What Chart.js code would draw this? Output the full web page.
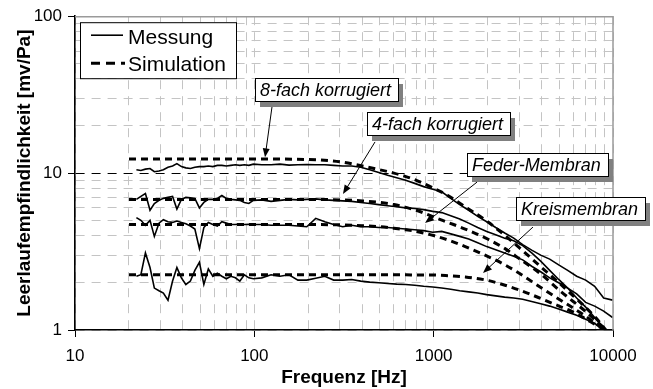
<!DOCTYPE html>
<html>
<head>
<meta charset="utf-8">
<script src="https://cdn.jsdelivr.net/npm/chart.js@4.4.0/dist/chart.umd.min.js"></script>
<style>
  html, body { margin: 0; padding: 0; background: #fff; }
  #wrap { width: 653px; height: 389px; }
</style>
</head>
<body>
<div id="wrap"><canvas id="chart" width="653" height="389"></canvas></div>
<script>
// Messung: frequencies [Hz] and sensitivities [mV/Pa]
const freqMess = [22, 23.3, 24.7, 26.2, 27.7, 29.4, 31.1, 33, 35, 37, 39.2, 41.5, 44, 46.6, 49.4, 52.3, 55.4, 58.7, 62.2, 65.9, 69.8, 74, 78.4, 83, 88, 93.2, 98.8,
  110, 124, 139, 156, 175, 196, 220, 247, 277, 311, 349, 392, 440, 494, 554, 622, 698, 784, 880, 988,
  1109, 1245, 1397, 1568, 1760, 1976, 2217, 2489, 2794, 3136, 3520, 3951, 4435, 4978, 5588, 6272, 7040, 7902, 8870, 9956];

const mess8fach = [10.5, 10.4, 10.6, 10.7, 10.2, 10.3, 10.5, 10.9, 11.1, 11.5, 11.0, 10.8, 10.7, 10.9, 11.0, 11.0, 11.1, 11.0, 11.2, 11.2, 11.1, 11.2, 11.3, 11.2, 11.3, 11.2, 11.4,
  11.3, 11.3, 11.4, 11.25, 11.3, 11.35, 11.3, 11.3, 11.2, 11.1, 11.1, 10.9, 10.5, 10.1, 9.7, 9.35, 9.0, 8.6, 8.2, 7.9,
  7.6, 6.9, 6.3, 5.8, 5.3, 4.9, 4.5, 4.15, 3.85, 3.5, 3.23, 3.0, 2.83, 2.6, 2.4, 2.2, 2.08, 1.9, 1.6, 1.55];

const mess4fach = [6.8, 7.1, 7.4, 5.8, 6.4, 6.7, 6.9, 7.0, 7.1, 5.9, 6.8, 7.0, 6.95, 6.9, 6.0, 6.5, 6.8, 6.8, 6.9, 7.2, 6.9, 6.8, 6.75, 6.7, 6.5, 6.4, 6.7,
  6.75, 6.6, 6.7, 6.8, 6.75, 6.8, 6.85, 6.75, 6.7, 6.65, 6.6, 6.5, 6.4, 6.3, 6.2, 6.1, 6.0, 5.95, 5.85, 5.7,
  5.6, 5.35, 5.1, 4.8, 4.5, 4.25, 4.05, 3.85, 3.7, 3.45, 3.1, 2.75, 2.4, 2.1, 1.85, 1.6, 1.4, 1.2, 1.02, 0.9];

const messFeder = [5.2, 5.0, 4.65, 5.0, 3.95, 4.8, 5.05, 4.9, 4.85, 4.95, 4.85, 4.75, 4.6, 4.4, 3.3, 4.5, 4.85, 4.7, 4.6, 4.9, 4.8, 4.7, 4.7, 4.75, 4.7, 4.72, 4.7,
  4.7, 4.65, 4.65, 4.65, 4.6, 4.55, 5.15, 4.9, 4.7, 4.55, 4.65, 4.55, 4.55, 4.5, 4.5, 4.45, 4.4, 4.35, 4.3, 4.2,
  4.25, 4.1, 3.95, 3.8, 3.6, 3.4, 3.25, 3.1, 2.95, 2.8, 2.55, 2.35, 2.15, 2.0, 1.85, 1.7, 1.5, 1.42, 1.32, 1.2];

const messKreis = [2.2, 2.25, 3.1, 2.5, 1.85, 1.78, 1.72, 1.55, 2.05, 2.5, 2.15, 1.95, 2.05, 2.4, 2.7, 1.95, 2.45, 2.2, 2.3, 2.2, 2.12, 2.2, 2.15, 2.05, 2.25, 2.15, 2.12,
  2.15, 2.25, 2.2, 2.25, 2.08, 2.08, 2.14, 2.2, 2.08, 2.08, 2.1, 2.05, 2.02, 2.0, 1.98, 1.96, 1.95, 1.93, 1.9, 1.88,
  1.85, 1.82, 1.78, 1.75, 1.72, 1.68, 1.65, 1.62, 1.6, 1.57, 1.52, 1.47, 1.42, 1.36, 1.3, 1.24, 1.17, 1.1, 1.02, 0.95];

// Simulation
const freqSim = [20, 50, 100, 200, 300, 400, 500, 600, 700, 800, 1000, 1200, 1500, 2000, 2500, 3000, 4000, 5000, 6000, 7000, 8000, 9000, 10000];
const sim8fach = [12.3, 12.3, 12.3, 12.2, 11.8, 11.1, 10.5, 10.0, 9.5, 9.0, 8.0, 7.2, 6.1, 4.9, 4.0, 3.35, 2.5, 2.0, 1.65, 1.4, 1.2, 1.02, 0.88];
const sim4fach = [6.8, 6.8, 6.8, 6.8, 6.75, 6.65, 6.5, 6.3, 6.05, 5.8, 5.25, 4.85, 4.4, 3.8, 3.3, 2.85, 2.25, 1.8, 1.52, 1.32, 1.15, 1.02, 0.9];
const simFeder = [4.7, 4.7, 4.7, 4.7, 4.68, 4.62, 4.55, 4.45, 4.35, 4.25, 4.0, 3.75, 3.4, 2.95, 2.6, 2.3, 1.85, 1.57, 1.38, 1.23, 1.1, 1.0, 0.9];
const simKreis = [2.25, 2.25, 2.25, 2.25, 2.25, 2.25, 2.25, 2.25, 2.25, 2.24, 2.24, 2.22, 2.18, 2.07, 1.93, 1.8, 1.58, 1.42, 1.3, 1.18, 1.08, 1.0, 0.92];

const xDecades = [10, 100, 1000, 10000];
const yDecades = [1, 10, 100];

// labelled callouts, anchored in data coordinates
const callouts = [
  {text: '8-fach korrugiert', box: [101, 40.3], from: [125.5, 26.5], to: [114.7, 12.6]},
  {text: '4-fach korrugiert', box: [424.6, 24.5], from: [471, 15.8], to: [312, 7.35]},
  {text: 'Feder-Membran', box: [1535, 13.4], from: [1745, 8.76], to: [895, 4.8]},
  {text: 'Kreismembran', box: [2877, 7.03], from: [3580, 4.53], to: [1884, 2.31]}
];

const FONT = 'Arial, "Liberation Sans", sans-serif';
Chart.defaults.font.family = FONT;
Chart.defaults.color = '#000';

const pts = (xs, ys) => xs.map((x, i) => ({x: x, y: ys[i]}));
const isDecade = v => Math.abs(Math.log10(v) - Math.round(Math.log10(v))) < 1e-9;

function logTicks(list) {
  const t = [];
  for (let i = 0; i < list.length - 1; i++) {
    for (let m = 1; m < 10; m++) t.push({value: list[i] * m});
  }
  t.push({value: list[list.length - 1]});
  return t;
}

const messStyle = {borderColor: '#000', borderWidth: 1.6, pointRadius: 0, fill: false, tension: 0};
const simStyle = {borderColor: '#000', borderWidth: 3, borderDash: [7, 5], pointRadius: 0, fill: false, cubicInterpolationMode: 'monotone'};

function drawArrow(ctx, x1, y1, x2, y2) {
  const a = Math.atan2(y2 - y1, x2 - x1), L = 9, W = 3.5;
  ctx.beginPath();
  ctx.moveTo(x1, y1);
  ctx.lineTo(x2 - (L - 2) * Math.cos(a), y2 - (L - 2) * Math.sin(a));
  ctx.stroke();
  ctx.beginPath();
  ctx.moveTo(x2, y2);
  ctx.lineTo(x2 - L * Math.cos(a) + W * Math.sin(a), y2 - L * Math.sin(a) - W * Math.cos(a));
  ctx.lineTo(x2 - L * Math.cos(a) - W * Math.sin(a), y2 - L * Math.sin(a) + W * Math.cos(a));
  ctx.closePath();
  ctx.fill();
}

const overlay = {
  id: 'overlay',
  afterDraw(chart) {
    const {ctx, chartArea: a, scales: {x, y}} = chart;
    ctx.save();
    // top / right frame
    ctx.setLineDash([]);
    ctx.strokeStyle = '#9a9a9a';
    ctx.lineWidth = 1.5;
    ctx.beginPath();
    ctx.moveTo(a.left, a.top + 0.5);
    ctx.lineTo(a.right, a.top + 0.5);
    ctx.lineTo(a.right, a.bottom);
    ctx.stroke();

    // callouts
    ctx.font = 'italic 18px ' + FONT;
    ctx.textBaseline = 'middle';
    callouts.forEach(c => {
      ctx.strokeStyle = '#000';
      ctx.fillStyle = '#000';
      ctx.lineWidth = 1;
      drawArrow(ctx, x.getPixelForValue(c.from[0]), y.getPixelForValue(c.from[1]),
        x.getPixelForValue(c.to[0]), y.getPixelForValue(c.to[1]));
      const bx = Math.round(x.getPixelForValue(c.box[0]));
      const by = Math.round(y.getPixelForValue(c.box[1]));
      const w = Math.round(ctx.measureText(c.text).width + 12), h = 23;
      ctx.fillStyle = '#808080';
      ctx.fillRect(bx + 5, by + 6, w, h);
      ctx.fillStyle = '#fff';
      ctx.fillRect(bx, by, w, h);
      ctx.strokeRect(bx + 0.5, by + 0.5, w, h);
      ctx.fillStyle = '#000';
      ctx.fillText(c.text, bx + 5, by + h / 2 + 1);
    });

    // legend
    const lx = a.left + 5, ly = a.top + 6;
    ctx.fillStyle = '#fff';
    ctx.fillRect(lx, ly, 156, 56);
    ctx.strokeStyle = '#000';
    ctx.lineWidth = 1;
    ctx.strokeRect(lx + 0.5, ly + 0.5, 156, 56);
    ctx.lineWidth = 1.6;
    ctx.beginPath();
    ctx.moveTo(lx + 11, ly + 13);
    ctx.lineTo(lx + 43, ly + 13);
    ctx.stroke();
    ctx.lineWidth = 3;
    ctx.setLineDash([9, 6]);
    ctx.beginPath();
    ctx.moveTo(lx + 11, ly + 41);
    ctx.lineTo(lx + 45, ly + 41);
    ctx.stroke();
    ctx.setLineDash([]);
    ctx.font = '21px ' + FONT;
    ctx.fillStyle = '#000';
    ctx.fillText('Messung', lx + 48, ly + 16);
    ctx.fillText('Simulation', lx + 48, ly + 43);
    ctx.restore();
  }
};

new Chart(document.getElementById('chart'), {
  type: 'line',
  data: {
    datasets: [
      Object.assign({label: 'Messung 8-fach korrugiert', data: pts(freqMess, mess8fach)}, messStyle),
      Object.assign({label: 'Messung 4-fach korrugiert', data: pts(freqMess, mess4fach)}, messStyle),
      Object.assign({label: 'Messung Feder-Membran', data: pts(freqMess, messFeder)}, messStyle),
      Object.assign({label: 'Messung Kreismembran', data: pts(freqMess, messKreis)}, messStyle),
      Object.assign({label: 'Simulation 8-fach korrugiert', data: pts(freqSim, sim8fach)}, simStyle),
      Object.assign({label: 'Simulation 4-fach korrugiert', data: pts(freqSim, sim4fach)}, simStyle),
      Object.assign({label: 'Simulation Feder-Membran', data: pts(freqSim, simFeder)}, simStyle),
      Object.assign({label: 'Simulation Kreismembran', data: pts(freqSim, simKreis)}, simStyle)
    ]
  },
  options: {
    responsive: false,
    animation: false,
    devicePixelRatio: 1,
    layout: {padding: {top: 16, right: 40, left: 0, bottom: 0}},
    plugins: {legend: {display: false}, tooltip: {enabled: false}},
    scales: {
      x: {
        type: 'logarithmic',
        min: 10,
        max: 10000,
        afterBuildTicks: s => { s.ticks = logTicks(xDecades); },
        afterFit: s => { s.height = 59; },
        grid: {
          color: '#c4c4c4',
          lineWidth: 1,
          tickLength: 7,
          tickColor: c => (c.tick && isDecade(c.tick.value)) ? '#000' : 'rgba(0,0,0,0)'
        },
        border: {display: true, color: '#000', width: 1.6, dash: [9, 7]},
        ticks: {
          autoSkip: false,
          maxRotation: 0,
          padding: 9,
          font: {size: 17},
          callback: v => isDecade(v) ? String(Math.round(v)) : ''
        },
        title: {display: true, text: 'Frequenz [Hz]', font: {size: 19, weight: 'bold'}, padding: {top: 0, bottom: 0}}
      },
      y: {
        type: 'logarithmic',
        min: 1,
        max: 100,
        afterBuildTicks: s => { s.ticks = logTicks(yDecades); },
        afterFit: s => { s.width = 75; },
        grid: {
          color: c => (c.tick && c.tick.value === 10) ? '#000' : '#c4c4c4',
          lineWidth: 1,
          tickLength: 7,
          tickColor: c => (c.tick && isDecade(c.tick.value)) ? '#000' : 'rgba(0,0,0,0)'
        },
        border: {display: true, color: '#000', width: 1.6, dash: [9, 7]},
        ticks: {
          autoSkip: false,
          padding: 6,
          font: {size: 17},
          callback: v => isDecade(v) ? String(Math.round(v)) : ''
        },
        title: {display: true, text: 'Leerlaufempfindlichkeit [mv/Pa]', font: {size: 19, weight: 'bold'}, padding: {top: 13, bottom: 0}}
      }
    }
  },
  plugins: [overlay]
});
</script>
</body>
</html>
